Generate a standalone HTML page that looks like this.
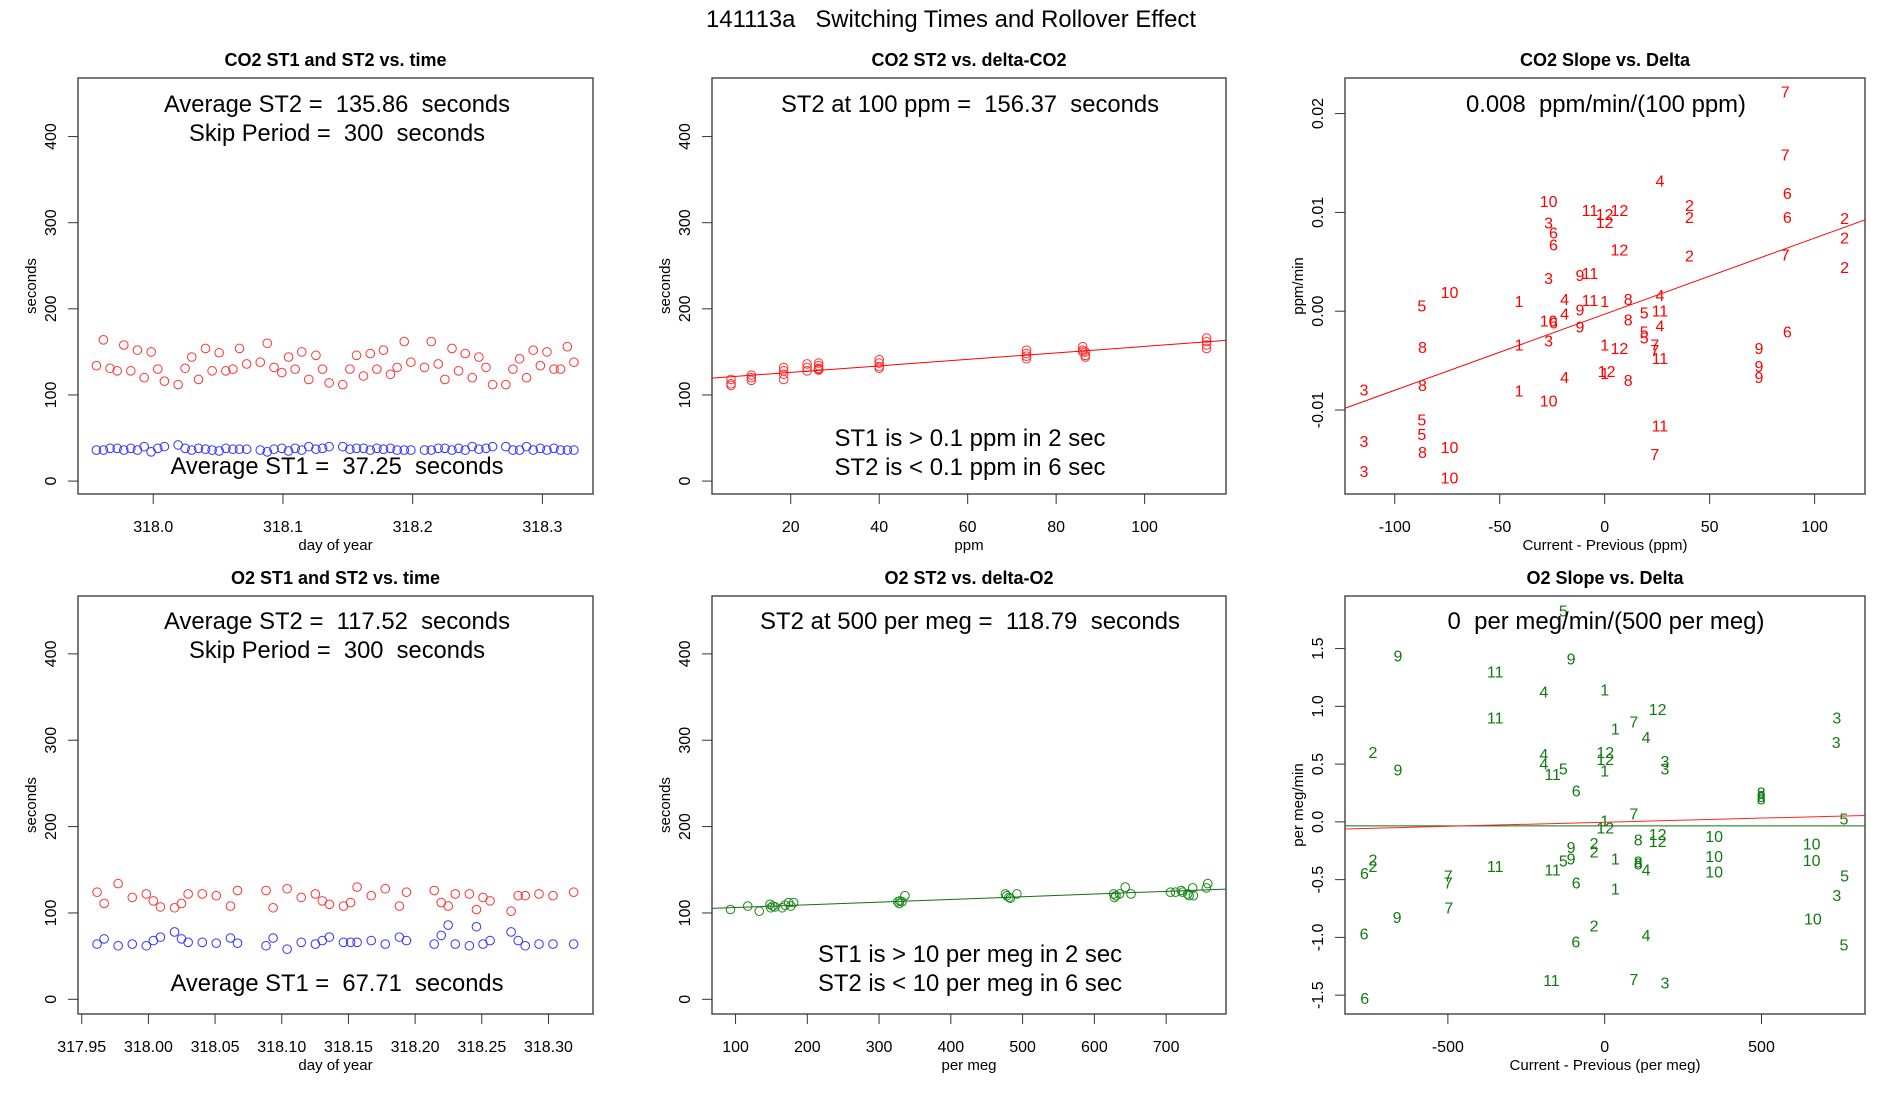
<!DOCTYPE html>
<html><head><meta charset="utf-8"><style>
html,body{margin:0;padding:0;background:#fff;}
svg{display:block;font-family:"Liberation Sans",sans-serif;}
text{white-space:pre;}
</style></head><body>
<svg id="fig" width="1900" height="1100" viewBox="0 0 1900 1100" xml:space="preserve"></svg>
<script>
// ---- Panel 1: CO2 ST1/ST2 vs time ----
const co2Time=[317.9562,317.9616,317.9667,317.9722,317.9773,317.9827,317.9878,317.9930,317.9984,318.0035,318.0086,
318.0192,318.0246,318.0297,318.0349,318.0403,318.0454,318.0508,318.0560,318.0614,318.0665,318.0720,
318.0825,318.0879,318.0931,318.0991,318.1043,318.1094,318.1145,318.1199,318.1254,318.1305,318.1356,
318.1461,318.1516,318.1567,318.1621,318.1673,318.1724,318.1775,318.1829,318.1880,318.1935,318.1986,
318.2091,318.2143,318.2197,318.2248,318.2303,318.2354,318.2405,318.2459,318.2510,318.2565,318.2616,
318.2718,318.2773,318.2824,318.2878,318.2929,318.2984,318.3035,318.3089,318.3140,318.3192,318.3243];
const co2ST2=[134,164,131,128,158,128,152,120,150,130,116,
112,131,144,118,154,128,149,128,130,154,136,
138,160,132,126,144,130,150,118,146,130,114,
112,130,146,122,148,130,152,124,132,162,138,
132,162,136,118,154,128,148,120,144,132,112,
112,130,142,120,152,134,150,130,130,156,138];
const co2ST1=[36,36,38,38,36,38,36,40,34,38,40,
42,38,36,38,37,36,35,38,37,37,37,
36,34,37,38,35,38,36,40,37,38,40,
40,37,38,38,36,38,37,38,36,36,36,
36,36,38,38,36,38,36,40,37,38,40,
40,36,36,40,36,38,36,38,36,36,36];
const p1XTicks=[318.0,318.1,318.2,318.3];
const p1XLabels=["318.0","318.1","318.2","318.3"];
const secTicks=[0,100,200,300,400];
const secLabels=["0","100","200","300","400"];

// ---- Panel 2: CO2 ST2 vs delta ----
const co2Delta=[6.5,6.5,6.5,11.1,11.1,11.1,18.4,18.4,18.4,18.4,23.7,23.7,23.7,26.3,26.3,26.3,26.3,26.3,26.3,
40,40,40,40,73.3,73.3,73.3,73.3,86,86,86,86.6,86.6,86.6,114,114,114,114];
const co2DeltaST2=[118,113,111,123,120,117,132,128,124,118,136,132,128,137,134,131,130,129,129,
141,137,133,131,152,148,145,142,156,152,150,150,146,144,166,162,158,154];
const co2Fit=[118.7,0.3767];
const p2XTicks=[20,40,60,80,100];
const p2XLabels=["20","40","60","80","100"];

// ---- Panel 3: CO2 slope vs delta ----
const co2SlopeX=[86,86,26.3,87,-26.7,-7,0,7,40.4,40.4,87,-26.7,-24.4,0,114.3,-24.4,7,40.4,114.3,86,114.3,-26.7,-11.8,-7,
-73.9,-87.1,-40.8,-19.1,-7,0,11.2,26.3,-11.8,-19.1,-26.7,-24.4,18.8,26.3,11.2,-11.8,26.3,18.8,18.8,-26.7,-86.8,-40.8,0,7,23.9,23.9,26.3,
73.5,73.5,73.5,87,0,0.9,-19.1,11.2,-114.7,-86.8,-40.8,-26.7,-87.1,-87.1,-114.7,-73.9,-86.8,26.3,23.9,-114.7,-73.9];
const co2SlopeY=[0.0221,0.0157,0.0131,0.0118,0.0110,0.0101,0.0097,0.0101,0.0106,0.0094,0.0094,0.0088,0.0078,0.0089,0.0093,0.0066,0.0061,0.0055,0.0073,0.0056,0.0043,0.0032,0.0035,0.0037,
0.0018,0.0004,0.0009,0.0011,0.0010,0.0009,0.0011,0.0015,0.0000,-0.0004,-0.0011,-0.0013,-0.0003,-0.0001,-0.0010,-0.0017,-0.0016,-0.0022,-0.0028,-0.0031,-0.0038,-0.0035,-0.0035,-0.0039,-0.0035,-0.0041,-0.0049,
-0.0039,-0.0057,-0.0068,-0.0022,-0.0064,-0.0062,-0.0068,-0.0071,-0.0081,-0.0076,-0.0082,-0.0092,-0.0111,-0.0126,-0.0133,-0.0139,-0.0144,-0.0117,-0.0146,-0.0163,-0.0170];
const co2SlopeLab=["7","7","4","6","10","11","12","12","2","2","6","3","6","12","2","6","12","2","2","7","2","3","9","11",
"10","5","1","4","11","1","8","4","9","4","10","6","5","11","8","9","4","5","5","3","8","1","1","12","7","7","11",
"9","9","9","6","1","12","4","8","3","8","1","10","5","5","3","10","8","11","7","3","10"];
const co2SlopeFit=[-0.0003,0.000077];
const p3XTicks=[-100,-50,0,50,100];
const p3XLabels=["-100","-50","0","50","100"];
const p3YTicks=[-0.01,0,0.01,0.02];
const p3YLabels=["-0.01","0.00","0.01","0.02"];

// ---- Panel 4: O2 ST1/ST2 vs time ----
const o2Time=[317.9615,317.9668,317.9773,317.9879,317.9984,318.0037,318.0090,318.0196,318.0248,318.0298,318.0404,318.0509,318.0615,318.0668,
318.0882,318.0935,318.1040,318.1146,318.1252,318.1304,318.1357,318.1463,318.1516,318.1565,318.1671,318.1776,318.1882,318.1935,
318.2143,318.2196,318.2248,318.2301,318.2407,318.2460,318.2509,318.2562,318.2720,318.2773,318.2826,318.2929,318.3034,318.3189];
const o2ST2=[124,111,134,118,122,114,107,106,111,122,122,120,108,126,126,106,128,118,122,114,110,108,112,130,120,128,108,124,
126,112,108,122,122,104,118,114,102,120,120,122,120,124];
const o2ST1=[64,70,62,64,62,68,72,78,70,66,66,65,71,65,62,71,58,66,64,68,72,66,66,66,68,64,72,68,
64,74,86,64,62,84,64,68,78,68,62,64,64,64];
const p4XTicks=[317.95,318.00,318.05,318.10,318.15,318.20,318.25,318.30];
const p4XLabels=["317.95","318.00","318.05","318.10","318.15","318.20","318.25","318.30"];

// ---- Panel 5: O2 ST2 vs delta ----
const o2Delta=[93,117,133,148,149,152,155,165,169,174,177,181,326,328,329,332,336,476,478,481,483,492,627,628,630,635,643,651,706,713,721,723,730,732,737,738,756,758];
const o2DeltaST2=[104,108,102,110,106,108,107,106,109,112,108,112,113,111,114,113,120,122,120,118,117,122,122,118,120,122,130,122,124,124,126,124,122,120,129,120,129,134];
const o2Fit=[103.14,0.0313];
const p5XTicks=[100,200,300,400,500,600,700];
const p5XLabels=["100","200","300","400","500","600","700"];

// ---- Panel 6: O2 slope vs delta ----
const o2SlopeX=[-132,-659,-107,-349,-194,0,169,-349,740,93,34,132,738,-739,2,-194,2,192,-194,-659,-132,192,-166,0,-91,499,499,499,
93,763,0,2,169,107,169,349,660,-34,-107,-34,349,660,-739,-132,-107,34,107,107,-349,-739,-166,132,349,-766,-499,765,-499,-91,34,740,
-497,-662,664,-34,-767,132,-92,763,-170,93,192,-765];
const o2SlopeY=[1.815,1.427,1.403,1.290,1.116,1.131,0.964,0.890,0.890,0.857,0.797,0.722,0.678,0.591,0.591,0.576,0.531,0.516,0.493,0.439,0.448,0.448,0.403,0.433,0.260,0.24,0.21,0.19,
0.060,0.015,0.0,-0.060,-0.119,-0.164,-0.179,-0.134,-0.200,-0.194,-0.230,-0.269,-0.307,-0.343,-0.337,-0.349,-0.331,-0.328,-0.358,-0.373,-0.397,-0.397,-0.427,-0.427,-0.442,-0.454,-0.478,-0.478,-0.537,-0.537,-0.591,-0.648,
-0.755,-0.836,-0.851,-0.910,-0.979,-0.991,-1.048,-1.075,-1.382,-1.373,-1.403,-1.537];
const o2SlopeLab=["5","9","9","11","4","1","12","11","3","7","1","4","3","2","12","4","12","3","4","9","5","3","11","1","6","8","8","8",
"7","5","1","12","12","8","12","10","10","2","9","2","10","10","2","5","9","1","8","8","11","2","11","4","10","6","7","5","7","6","1","3",
"7","9","10","2","6","4","6","5","11","7","3","6"];
const o2SlopeFit=[-0.003,0.0000706];
const o2ZeroLine=[-0.035];
const p6XTicks=[-500,0,500];
const p6XLabels=["-500","0","500"];
const p6YTicks=[-1.5,-1,-0.5,0,0.5,1,1.5];
const p6YLabels=["-1.5","-1.0","-0.5","0.0","0.5","1.0","1.5"];

const NS="http://www.w3.org/2000/svg";
const svg=document.getElementById('fig');
function el(parent,tag,attrs,name,inter){
  const e=document.createElementNS(NS,tag);
  for(const k in attrs) e.setAttribute(k,attrs[k]);
  
  
  parent.appendChild(e);return e;
}
function txt(parent,x,y,s,size,name,opt){
  opt=opt||{};
  const a={x:x,y:y,'font-size':size,'text-anchor':opt.anchor||'middle',fill:opt.fill||'#000'};
  if(opt.bold)a['font-weight']='bold';
  if(opt.len){a.textLength=opt.len;a.lengthAdjust='spacingAndGlyphs';}
  if(opt.rot)a.transform='rotate(-90 '+x+' '+y+')';
  if(opt.mid)a['dominant-baseline']='central';
  const t=el(parent,'text',a,name,false);t.textContent=s;return t;
}
function makePanel(id,box,xd,yd){
  const g=el(svg,'g',{},id,false);
  const sx=v=>box.l+(v-xd[0])/(xd[1]-xd[0])*(box.r-box.l);
  const sy=v=>box.b-(v-yd[0])/(yd[1]-yd[0])*(box.b-box.t);
  return {g,sx,sy,box};
}
function axes(P,xt,xl,yt,yl,title,xtitle,ytitle){
  const {g,sx,sy,box}=P;
  const cx=(box.l+box.r)/2, cy=(box.t+box.b)/2;
  el(g,'rect',{x:box.l,y:box.t,width:box.r-box.l,height:box.b-box.t,fill:'none',stroke:'#333','stroke-width':1.3},'plot-frame',false);
  const xa=el(g,'g',{},'x-axis',false);
  xt.forEach((v,i)=>{
    const x=sx(v);
    el(xa,'line',{x1:x,y1:box.b,x2:x,y2:box.b+10,stroke:'#333','stroke-width':1},'x-tick',false);
    txt(xa,x,box.b+38,xl[i],16,'x-tick-label');
  });
  const ya=el(g,'g',{},'y-axis',false);
  yt.forEach((v,i)=>{
    const y=sy(v);
    el(ya,'line',{x1:box.l-10,y1:y,x2:box.l,y2:y,stroke:'#333','stroke-width':1},'y-tick',false);
    txt(ya,box.l-22,y,yl[i],16,'y-tick-label',{rot:true});
  });
  txt(g,cx,box.t-12,title,18,'panel-title',{bold:true});
  txt(g,cx,box.b+56,xtitle,15,'x-axis-title');
  txt(g,box.l-42,cy,ytitle,15,'y-axis-title',{rot:true});
}
function circles(P,xs,ys,color,name){
  const gg=el(P.g,'g',{},name,false);
  xs.forEach((v,i)=>{
    el(gg,'circle',{cx:P.sx(v),cy:P.sy(ys[i]),r:4.3,fill:'none',stroke:color,'stroke-width':1},name+'-point',false);
  });
}
function labels(P,xs,ys,labs,color,name){
  const gg=el(P.g,'g',{},name,false);
  xs.forEach((v,i)=>{
    txt(gg,P.sx(v),P.sy(ys[i]),labs[i],16,name+'-label',{fill:color,mid:true});
  });
}
function fitLine(P,xd,fit,color,name){
  const y0=fit[0]+fit[1]*xd[0], y1=fit[0]+fit[1]*xd[1];
  el(P.g,'line',{x1:P.sx(xd[0]),y1:P.sy(y0),x2:P.sx(xd[1]),y2:P.sy(y1),stroke:color,'stroke-width':1},name,false);
}

txt(svg,951,27,"141113a   Switching Times and Rollover Effect",24,'figure-title',{len:490});

const rowTop={t:78,b:494}, rowBot={t:596,b:1014};
const c1={l:78,r:593}, c2={l:712,r:1226}, c3={l:1345,r:1865};

// Panel 1
const d1x=[317.942,318.339], d1y=[-15,468];
const P1=makePanel('co2-time-panel',{l:c1.l,r:c1.r,t:rowTop.t,b:rowTop.b},d1x,d1y);
axes(P1,p1XTicks,p1XLabels,secTicks,secLabels,"CO2 ST1 and ST2 vs. time","day of year","seconds");
circles(P1,co2Time,co2ST2,'#ff3333','co2-st2-series');
circles(P1,co2Time,co2ST1,'#3333ff','co2-st1-series');
txt(P1.g,337,112,"Average ST2 =  135.86  seconds",24,'avg-st2-note',{len:346});
txt(P1.g,337,141,"Skip Period =  300  seconds",24,'skip-period-note',{len:296});
txt(P1.g,337,474,"Average ST1 =  37.25  seconds",24,'avg-st1-note',{len:333});

// Panel 2
const d2x=[2.2,118.4], d2y=[-15,468];
const P2=makePanel('co2-delta-panel',{l:c2.l,r:c2.r,t:rowTop.t,b:rowTop.b},d2x,d2y);
axes(P2,p2XTicks,p2XLabels,secTicks,secLabels,"CO2 ST2 vs. delta-CO2","ppm","seconds");
circles(P2,co2Delta,co2DeltaST2,'#ff3333','co2-delta-series');
fitLine(P2,d2x,co2Fit,'#ff0000','co2-fit-line');
txt(P2.g,970,112,"ST2 at 100 ppm =  156.37  seconds",24,'st2-at-100-note',{len:378});
txt(P2.g,970,446,"ST1 is > 0.1 ppm in 2 sec",24,'st1-criterion-note',{len:271});
txt(P2.g,970,475,"ST2 is < 0.1 ppm in 6 sec",24,'st2-criterion-note',{len:271});

// Panel 3
const d3x=[-123.7,124], d3y=[-0.0185,0.0236];
const P3=makePanel('co2-slope-panel',{l:c3.l,r:c3.r,t:rowTop.t,b:rowTop.b},d3x,d3y);
axes(P3,p3XTicks,p3XLabels,p3YTicks,p3YLabels,"CO2 Slope vs. Delta","Current - Previous (ppm)","ppm/min");
labels(P3,co2SlopeX,co2SlopeY,co2SlopeLab,'#ff0000','co2-slope-series');
fitLine(P3,d3x,co2SlopeFit,'#ff0000','co2-slope-fit');
txt(P3.g,1606,112,"0.008  ppm/min/(100 ppm)",24,'slope-note',{len:280});

// Panel 4
const d4x=[317.9472,318.3334], d4y=[-17,467];
const P4=makePanel('o2-time-panel',{l:c1.l,r:c1.r,t:rowBot.t,b:rowBot.b},d4x,d4y);
axes(P4,p4XTicks,p4XLabels,secTicks,secLabels,"O2 ST1 and ST2 vs. time","day of year","seconds");
circles(P4,o2Time,o2ST2,'#ff3333','o2-st2-series');
circles(P4,o2Time,o2ST1,'#3333ff','o2-st1-series');
txt(P4.g,337,629,"Average ST2 =  117.52  seconds",24,'avg-st2-note',{len:346});
txt(P4.g,337,658,"Skip Period =  300  seconds",24,'skip-period-note',{len:296});
txt(P4.g,337,991,"Average ST1 =  67.71  seconds",24,'avg-st1-note',{len:333});

// Panel 5
const d5x=[67.2,783.4], d5y=[-17,467];
const P5=makePanel('o2-delta-panel',{l:c2.l,r:c2.r,t:rowBot.t,b:rowBot.b},d5x,d5y);
axes(P5,p5XTicks,p5XLabels,secTicks,secLabels,"O2 ST2 vs. delta-O2","per meg","seconds");
circles(P5,o2Delta,o2DeltaST2,'#1a8a1a','o2-delta-series');
fitLine(P5,d5x,o2Fit,'#107010','o2-fit-line');
txt(P5.g,970,629,"ST2 at 500 per meg =  118.79  seconds",24,'st2-at-500-note',{len:420});
txt(P5.g,970,962,"ST1 is > 10 per meg in 2 sec",24,'st1-criterion-note',{len:304});
txt(P5.g,970,991,"ST2 is < 10 per meg in 6 sec",24,'st2-criterion-note',{len:304});

// Panel 6
const d6x=[-828,830], d6y=[-1.663,1.955];
const P6=makePanel('o2-slope-panel',{l:c3.l,r:c3.r,t:rowBot.t,b:rowBot.b},d6x,d6y);
axes(P6,p6XTicks,p6XLabels,p6YTicks,p6YLabels,"O2 Slope vs. Delta","Current - Previous (per meg)","per meg/min");
labels(P6,o2SlopeX,o2SlopeY,o2SlopeLab,'#107a10','o2-slope-series');
fitLine(P6,d6x,[o2ZeroLine[0],0],'#107010','o2-zero-line');
fitLine(P6,d6x,o2SlopeFit,'#ff2222','o2-slope-fit');
txt(P6.g,1606,629,"0  per meg/min/(500 per meg)",24,'slope-note',{len:317});
</script>
</body></html>
